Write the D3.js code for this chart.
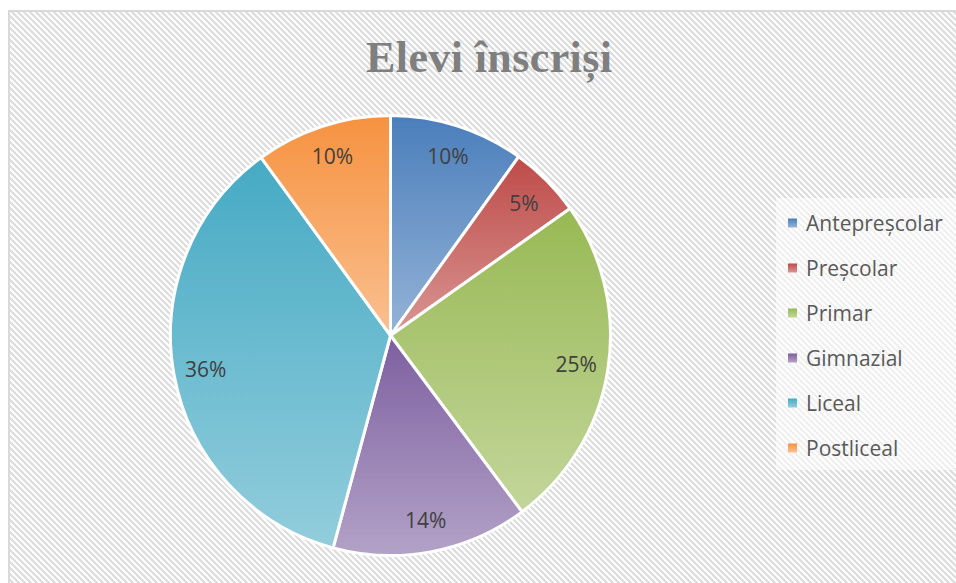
<!DOCTYPE html>
<html><head><meta charset="utf-8">
<script src="https://cdn.jsdelivr.net/npm/d3@7"></script>
<style>html,body{margin:0;padding:0;background:#fff;}svg{display:block;}</style>
</head><body>
<svg id="chart" width="956" height="583"></svg>
<script>
const title = "Elevi înscriși";
const categories = ["Antepreșcolar", "Preșcolar", "Primar", "Gimnazial", "Liceal", "Postliceal"];
const values = [9.9, 5.3, 24.6, 14.4, 35.8, 10.0];
const colorsTop = ["#4a7ebb", "#be4b48", "#98b954", "#7d5fa0", "#46aac4", "#f69240"];
const colorsBottom = ["#95b3d7", "#d99694", "#c3d69b", "#b3a2c7", "#92cddc", "#fac090"];

const svg = d3.select("#chart");
const W = 956, H = 583;
const defs = svg.append("defs");

const pat = defs.append("pattern").attr("id", "hatch").attr("patternUnits", "userSpaceOnUse")
  .attr("width", 6).attr("height", 6);
pat.append("rect").attr("width", 6).attr("height", 6).attr("fill", "#fff");
pat.append("path").attr("d", "M-3,3 L3,9 M0,0 L6,6 M3,-3 L9,3")
  .attr("stroke", "#dcdcdc").attr("stroke-width", 2.2);

svg.append("rect").attr("x", 0).attr("y", 0).attr("width", W).attr("height", H).attr("fill", "#fff");
svg.append("rect").attr("x", 9).attr("y", 11).attr("width", W + 10).attr("height", H + 10)
  .attr("fill", "url(#hatch)").attr("stroke", "#d9d9d9").attr("stroke-width", 2);

categories.forEach((c, i) => {
  const g = defs.append("linearGradient").attr("id", "grad" + i)
    .attr("x1", 0).attr("y1", 0).attr("x2", 0).attr("y2", 1);
  g.append("stop").attr("offset", "0%").attr("stop-color", colorsTop[i]);
  g.append("stop").attr("offset", "100%").attr("stop-color", colorsBottom[i]);
});

svg.append("text").attr("x", 489).attr("y", 72).attr("text-anchor", "middle")
  .attr("font-family", "'Liberation Serif', serif").attr("font-weight", "bold")
  .attr("font-size", 44).attr("fill", "#7f7f7f")
  .attr("textLength", 246).attr("lengthAdjust", "spacing").text(title);

const cx = 390.5, cy = 335.5, R = 220;
const total = d3.sum(values);
const pie = d3.pie().sort(null).value(d => d.v);
const arcs = pie(categories.map((c, i) => ({ c, v: values[i], i })));
const arc = d3.arc().innerRadius(0).outerRadius(R);
const labelArc = d3.arc().innerRadius(188).outerRadius(188);

const gp = svg.append("g").attr("transform", `translate(${cx},${cy})`);
gp.selectAll("path").data(arcs).join("path")
  .attr("d", arc).attr("fill", d => `url(#grad${d.data.i})`)
  .attr("stroke", "#fff").attr("stroke-width", 3).attr("stroke-linejoin", "round");

gp.selectAll("text.lbl").data(arcs).join("text").attr("class", "lbl")
  .attr("transform", d => `translate(${labelArc.centroid(d)})`)
  .attr("text-anchor", "middle").attr("dy", "0.36em")
  .attr("font-family", "'Open Sans', sans-serif").attr("font-size", 21).attr("fill", "#404040")
  .text(d => Math.round(d.data.v / total * 100) + "%");

// legend
svg.append("rect").attr("x", 776).attr("y", 198).attr("width", 180).attr("height", 272)
  .attr("fill", "#fff").attr("opacity", 0.55);
const ly = d3.scalePoint().domain(categories).range([223, 448]);
const lg = svg.append("g");
const items = lg.selectAll("g").data(categories).join("g")
  .attr("transform", d => `translate(0,${ly(d)})`);
items.append("rect").attr("x", 788).attr("y", -4.5).attr("width", 9).attr("height", 9)
  .attr("fill", (d, i) => `url(#grad${i})`);
items.append("text").attr("x", 806).attr("y", 0).attr("dy", "0.36em")
  .attr("font-family", "'Open Sans', sans-serif").attr("font-size", 21).attr("fill", "#595959")
  .text(d => d);
</script>
</body></html>
